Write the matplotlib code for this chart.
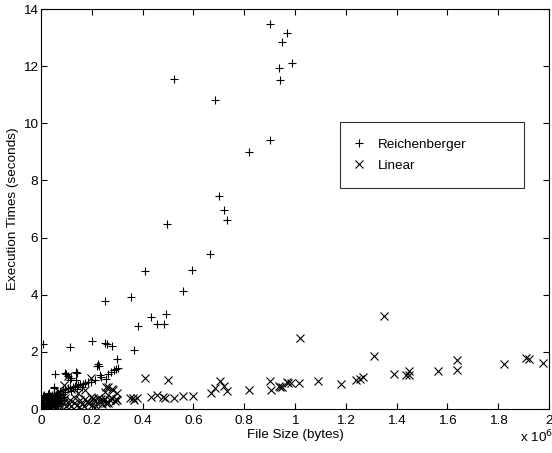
import matplotlib
matplotlib.use("Agg")
import matplotlib.pyplot as plt

plt.rcParams['font.family'] = ['Liberation Sans', 'DejaVu Sans']

# file size in units of 1e6 bytes, time in seconds
reich_x = [0.902, 0.967, 0.948, 0.987, 0.937, 0.941, 0.524, 0.686, 0.902, 0.819,
           0.702, 0.722, 0.732, 0.497, 0.667, 0.594, 0.408, 0.559, 0.356, 0.251,
           0.492, 0.432, 0.382, 0.455, 0.484, 0.367, 0.007, 0.115, 0.200, 0.253,
           0.259, 0.280, 0.299, 0.224, 0.220, 0.227, 0.304, 0.296, 0.287, 0.274,
           0.265, 0.231, 0.256, 0.235, 0.054, 0.093, 0.100, 0.143, 0.138, 0.117,
           0.114, 0.138, 0.105,
           0.064, 0.075, 0.085, 0.095, 0.105, 0.115, 0.125, 0.135, 0.145, 0.155,
           0.165, 0.175, 0.185, 0.195, 0.211, 0.160, 0.140, 0.120, 0.050, 0.053,
           0.002, 0.005, 0.008, 0.010, 0.012, 0.015, 0.018, 0.020, 0.022, 0.025,
           0.028, 0.030, 0.033, 0.035, 0.038, 0.040, 0.043, 0.045, 0.048, 0.050,
           0.053, 0.055, 0.058, 0.060, 0.063, 0.065, 0.068, 0.070, 0.075, 0.080,
           0.085, 0.090, 0.095, 0.003, 0.006, 0.013, 0.017, 0.026, 0.032, 0.004,
           0.010, 0.020, 0.030, 0.045, 0.060, 0.072, 0.036, 0.024, 0.014, 0.008,
           0.042, 0.052, 0.062, 0.034, 0.018, 0.066, 0.078, 0.056, 0.027, 0.046]
reich_y = [13.49, 13.15, 12.86, 12.10, 11.93, 11.53, 11.55, 10.81, 9.42, 9.01,
           7.47, 6.95, 6.62, 6.46, 5.42, 4.85, 4.83, 4.12, 3.93, 3.78,
           3.32, 3.22, 2.92, 2.98, 2.98, 2.05, 2.28, 2.17, 2.38, 2.31,
           2.27, 2.21, 1.75, 1.56, 1.50, 1.52, 1.45, 1.40, 1.36, 1.30,
           1.22, 1.18, 1.06, 1.13, 1.22, 1.27, 1.22, 1.27, 1.30, 1.07,
           1.01, 1.00, 1.15,
           0.57, 0.62, 0.66, 0.70, 0.72, 0.74, 0.78, 0.80, 0.84, 0.86,
           0.88, 0.92, 0.94, 0.96, 1.01, 0.76, 0.70, 0.64, 0.78, 0.72,
           0.05, 0.10, 0.15, 0.22, 0.30, 0.08, 0.18, 0.35, 0.25, 0.12,
           0.40, 0.30, 0.20, 0.45, 0.35, 0.15, 0.50, 0.28, 0.40, 0.55,
           0.22, 0.45, 0.35, 0.50, 0.30, 0.42, 0.55, 0.38, 0.48, 0.30,
           0.52, 0.42, 0.58, 0.35, 0.45, 0.50, 0.42, 0.52, 0.55, 0.25,
           0.05, 0.06, 0.08, 0.10, 0.12, 0.20, 0.10, 0.04, 0.03, 0.02,
           0.10, 0.16, 0.24, 0.08, 0.05, 0.18, 0.40, 0.12, 0.07, 0.33]

lin_x = [1.352, 1.020, 1.312, 1.636, 1.909, 1.922, 1.978, 1.824, 1.636, 1.564,
         1.450, 1.450, 1.437, 1.390, 1.269, 1.256, 1.240, 1.180, 1.092, 1.017,
         0.984, 0.967, 0.947, 0.940, 0.938, 0.971, 0.902, 0.904, 0.820, 0.731,
         0.722, 0.705, 0.685, 0.669, 0.409, 0.501, 0.597, 0.560, 0.524, 0.488,
         0.482, 0.458, 0.432, 0.377, 0.361, 0.350, 0.365,
         0.197, 0.278, 0.256, 0.298, 0.265, 0.285, 0.252, 0.105, 0.146, 0.172,
         0.120, 0.090, 0.070,
         0.010, 0.020, 0.030, 0.040, 0.050, 0.060, 0.070, 0.080, 0.090, 0.100,
         0.110, 0.120, 0.130, 0.140, 0.150, 0.160, 0.170, 0.180, 0.190, 0.200,
         0.210, 0.220, 0.230, 0.240, 0.250, 0.260, 0.270, 0.280, 0.290, 0.300,
         0.015, 0.035, 0.055, 0.075, 0.095, 0.115, 0.135, 0.155, 0.175, 0.195,
         0.215, 0.235, 0.255, 0.275, 0.295, 0.225, 0.245, 0.265, 0.205, 0.005]
lin_y = [3.26, 2.49, 1.84, 1.71, 1.77, 1.75, 1.61, 1.56, 1.38, 1.33,
         1.34, 1.20, 1.19, 1.22, 1.13, 1.05, 1.01, 0.88, 0.98, 0.91,
         0.90, 0.94, 0.78, 0.76, 0.80, 0.90, 0.98, 0.66, 0.67, 0.63,
         0.80, 0.99, 0.72, 0.57, 1.07, 1.01, 0.45, 0.44, 0.38, 0.38,
         0.43, 0.49, 0.41, 0.37, 0.37, 0.37, 0.33,
         1.10, 0.69, 0.76, 0.55, 0.78, 0.66, 0.60, 1.15, 0.55, 0.66,
         0.70, 0.85, 0.60,
         0.05, 0.08, 0.12, 0.06, 0.15, 0.10, 0.20, 0.08, 0.25, 0.12,
         0.18, 0.10, 0.22, 0.15, 0.08, 0.18, 0.12, 0.25, 0.20, 0.15,
         0.30, 0.22, 0.28, 0.18, 0.35, 0.25, 0.30, 0.38, 0.28, 0.32,
         0.20, 0.30, 0.35, 0.28, 0.38, 0.32, 0.40, 0.30, 0.35, 0.42,
         0.12, 0.36, 0.22, 0.40, 0.36, 0.38, 0.30, 0.20, 0.40, 0.02]

fig = plt.figure(figsize=(5.52, 4.53), dpi=100)
ax = fig.add_axes([0.0743, 0.0971, 0.9203, 0.8829])

ax.plot(reich_x, reich_y, '+', color='black', markersize=6, markeredgewidth=0.8,
        label='Reichenberger')
ax.plot(lin_x, lin_y, 'x', color='black', markersize=5.5, markeredgewidth=0.8,
        label='Linear')

ax.set_xlim(0, 2)
ax.set_ylim(0, 14)
ax.set_xticks([0, 0.2, 0.4, 0.6, 0.8, 1, 1.2, 1.4, 1.6, 1.8, 2])
ax.set_xticklabels(['0', '0.2', '0.4', '0.6', '0.8', '1', '1.2', '1.4', '1.6', '1.8', '2'])
ax.set_yticks(range(0, 15, 2))
ax.tick_params(direction='in', length=4, width=0.8, top=True, right=True,
               labelsize=9.7)
ax.tick_params(axis='x', pad=4)
ax.tick_params(axis='y', pad=2)
for s in ax.spines.values():
    s.set_linewidth(0.8)

ax.set_xlabel('File Size (bytes)', fontsize=9.7, labelpad=2)
ax.set_ylabel('Execution Times (seconds)', fontsize=9.7, labelpad=3)
fig.text(0.942, 0.016, r'x 10$^6$', fontsize=9.7, ha='left', va='bottom')

leg = ax.legend(loc='center', bbox_to_anchor=(0.5886, 0.5525, 0.3622, 0.165),
                mode='expand', borderaxespad=0, frameon=True,
                fancybox=False, edgecolor='black', fontsize=9.7,
                handletextpad=1.2, borderpad=1.2, labelspacing=0.6,
                handlelength=0.4)
leg.get_frame().set_linewidth(0.8)

fig.savefig('out.png', dpi=100)
